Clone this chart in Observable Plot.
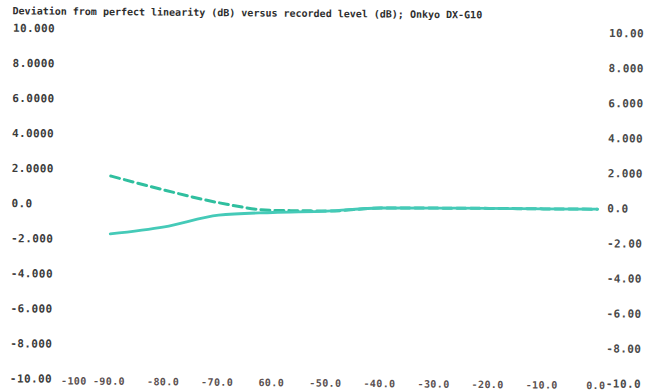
<!DOCTYPE html>
<html>
<head>
<meta charset="utf-8">
<script src="https://cdn.jsdelivr.net/npm/d3@7"></script>
<script src="https://cdn.jsdelivr.net/npm/@observablehq/plot@0.6"></script>
<style>
  html, body { margin: 0; padding: 0; background: #fff; overflow: hidden; }
  #sheet { position: relative; width: 645px; height: 392px; transform: rotate(0.5deg); transform-origin: 322px 196px; }
  #chart { position: absolute; left: 0; top: 0; }
  #title { position: absolute; left: 11px; top: 9px; z-index: 2; font: bold 10px "DejaVu Sans Mono", monospace; line-height: 1; color: #2e2e2e; white-space: nowrap; }
  #chart svg text { letter-spacing: 0.4px; }
</style>
</head>
<body>
<div id="sheet">
  <div id="chart"></div>
  <div id="title">Deviation from perfect linearity (dB) versus recorded level (dB); Onkyo DX-G10</div>
</div>
<script>
// Recorded level, dB
const levels = [-90, -80, -70, -60, -50, -40, -30, -20, -10, 0];
// Deviation from linearity, dB — solid trace and dashed trace
const deviationSolid = [-1.68, -1.25, -0.56, -0.38, -0.27, -0.07, -0.05, -0.04, -0.04, -0.03];
const deviationDashed = [1.62, 0.84, 0.15, -0.26, -0.27, -0.07, -0.05, -0.04, -0.04, -0.03];

// Axis ticks and their printed labels
const xTicks = [-100, -90, -80, -70, -60, -50, -40, -30, -20, -10, 0];
const xLabels = ["-100", "-90.0", "-80.0", "-70.0", "60.0", "-50.0", "-40.0", "-30.0", "-20.0", "-10.0", "0.0"];
const yTicks = [10, 8, 6, 4, 2, 0, -2, -4, -6, -8, -10];
const yLabelsLeft = ["10.000", "8.0000", "6.0000", "4.0000", "2.0000", "0.0", "-2.000", "-4.000", "-6.000", "-8.000", "-10.00"];
const yLabelsRight = ["10.00", "8.000", "6.000", "4.000", "2.000", "0.0", "-2.00", "-4.00", "-6.00", "-8.00", "-10.0"];

const rows = (ys) => levels.map((level, i) => ({level, dev: ys[i]}));
const xFmt = (d) => xLabels[xTicks.indexOf(d)];
const yFmtLeft = (d) => yLabelsLeft[yTicks.indexOf(d)];
const yFmtRight = (d) => yLabelsRight[yTicks.indexOf(d)];

const chart = Plot.plot({
  width: 645,
  height: 392,
  marginLeft: 56,
  marginRight: 48,
  marginTop: 30.5,
  marginBottom: 11,
  x: {domain: [-100, 0]},
  y: {domain: [-10, 10]},
  style: {fontFamily: "DejaVu Sans Mono", fontWeight: "bold", background: "white", overflow: "visible"},
  marks: [
    Plot.axisY({anchor: "left", ticks: yTicks, tickFormat: yFmtLeft, tickSize: 0, tickPadding: 0,
      textAnchor: "start", dx: -45, fontSize: 11, color: "#3c3c3c", label: null}),
    Plot.axisY({anchor: "right", ticks: yTicks, tickFormat: yFmtRight, tickSize: 0, tickPadding: 10,
      fontSize: 11, color: "#4a4a4a", label: null}),
    Plot.axisX({ticks: xTicks.slice(0, 1), tickFormat: xFmt, tickSize: 0, tickPadding: -2,
      dx: 19, fontSize: 10, color: "#5a5050", label: null}),
    Plot.axisX({ticks: xTicks.slice(1), tickFormat: xFmt, tickSize: 0, tickPadding: -2,
      fontSize: 10, color: "#5a5050", label: null}),
    Plot.line(rows(deviationDashed), {x: "level", y: "dev", stroke: "#30bf9f", strokeWidth: 3,
      strokeDasharray: "9,5", curve: "monotone-x"}),
    Plot.line(rows(deviationSolid), {x: "level", y: "dev", stroke: "#45cab8", strokeWidth: 2.8,
      curve: "monotone-x"})
  ]
});
document.getElementById("chart").appendChild(chart);
</script>
</body>
</html>
